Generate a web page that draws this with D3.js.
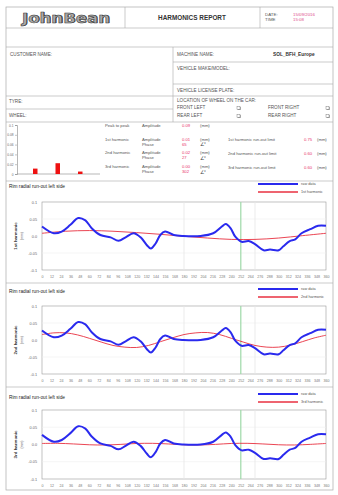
<!DOCTYPE html>
<html><head><meta charset="utf-8">
<script src="https://cdn.jsdelivr.net/npm/d3@7"></script>
<style>body{margin:0;background:#fff}svg{display:block;font-family:"Liberation Sans",Arial,sans-serif}</style>
</head><body><svg id="c" width="338" height="495"></svg>
<script>
// ---------- data ----------
const rawAngles=[0,15,25,36,46,55,63,74,87,97,106,116,125,133,138,144,150,156,167,179,201,217,228,233,239,245,253,262,270,281,289,300,306,314,321,329,340,350,360];
const rawValues=[0.028,0.008,0.013,0.033,0.053,0.046,0.023,0.003,-0.004,-0.014,-0.004,0.008,-0.004,-0.027,-0.037,-0.022,0.003,0.013,0.003,0.0,0.0,0.008,0.028,0.035,0.023,-0.002,-0.017,-0.015,-0.024,-0.042,-0.04,-0.042,-0.03,-0.015,-0.01,0.008,0.02,0.03,0.03];
const h1Angles=[0,30,60,90,120,150,180,210,240,270,300,330,360];
const h1Values=[0.008,0.014,0.016,0.014,0.01,0.005,-0.001,-0.006,-0.01,-0.01,-0.006,0.001,0.008];
const h2Angles=[0,15,30,45,60,75,90,105,120,135,150,165,180,195,210,225,240,255,270,285,300,315,330,345,360];
const h2Values=[0.016,0.021,0.021,0.015,0.005,-0.006,-0.016,-0.021,-0.022,-0.016,-0.005,0.006,0.016,0.021,0.022,0.016,0.005,-0.006,-0.016,-0.021,-0.021,-0.015,-0.005,0.006,0.014];
const h3Angles=[0,20,40,60,80,100,120,140,160,180,200,220,240,260,280,300,320,340,360];
const h3Values=[0.003,0.0034,0.0016,-0.0008,-0.0014,0.0004,0.003,0.0034,0.0016,-0.0008,-0.0014,0.0004,0.003,0.0034,0.0016,-0.0008,-0.0014,0.0004,0.003];
const harmonicNames=["1st harmonic","2nd harmonic","3rd harmonic"];
const xTicks=[0,12,24,36,48,60,72,84,96,108,120,132,144,156,168,180,192,204,216,228,240,252,264,276,288,300,312,324,336,348,360];
const yTicks=[0.1,0.05,0,-0.05,-0.1];
const yTickLabels=["0.1","0.05","0.0","-0.05","-0.1"];
const markerAngle=252;
const barCats=["1st","2nd","3rd"];
const barValues=[0.011,0.022,0.005];
const barTicks=[0,0.02,0.04,0.06,0.08,0.1];
const amplitudes=["0.01","0.02","0.00"];
const phases=["65","27","302"];
const limits=["0.75","0.60","0.60"];
const peakToPeak="0.09";

// ---------- drawing ----------
const svg=d3.select("#c");
svg.append("rect").attr("width",338).attr("height",495).attr("fill","#fff");
const G=svg.append("g");
const ln=(x1,y1,x2,y2,c="#aaa",w=0.6)=>G.append("line").attr("x1",x1).attr("y1",y1).attr("x2",x2).attr("y2",y2).attr("stroke",c).attr("stroke-width",w);
const tx=(x,y,s,o={})=>G.append("text").attr("x",x).attr("y",y).attr("font-size",o.fs||4.4).attr("fill",o.c||"#555")
  .attr("font-weight",o.fw||"normal").attr("text-anchor",o.a||"start").attr("dominant-baseline","middle").text(s);
const box=(x,y)=>{G.append("rect").attr("x",x+0.7).attr("y",y+0.7).attr("width",3).attr("height",3).attr("fill","#999");
  G.append("rect").attr("x",x).attr("y",y).attr("width",3).attr("height",3).attr("fill","#fff").attr("stroke","#666").attr("stroke-width",0.4);};

// frame
G.append("rect").attr("x",6).attr("y",7).attr("width",327).attr("height",483).attr("fill","none").attr("stroke","#aaa").attr("stroke-width",0.7);
ln(6,28,333,28); ln(125,7,125,28); ln(260,7,260,28);
ln(6,47,333,47);
ln(173,47,173,122);
ln(173,62,333,62); ln(173,84,333,84);
ln(6,96,333,96);
ln(6,109,173,109);
ln(6,122,333,122);
ln(6,181,333,181); ln(6,283,333,283); ln(6,387,333,387);

// header
G.append("text").attr("x",66).attr("y",22.5).attr("text-anchor","middle").attr("font-size",14).attr("font-weight","900")
  .attr("font-family","DejaVu Sans").attr("fill","#444").attr("textLength",88).attr("lengthAdjust","spacingAndGlyphs").attr("transform","translate(0.8,0.8)").text("JohnBean");
G.append("text").attr("x",66).attr("y",22.5).attr("text-anchor","middle").attr("font-size",14).attr("font-weight","900")
  .attr("font-family","DejaVu Sans").attr("fill","#a8a8a8").attr("stroke","#333").attr("stroke-width",0.5).attr("textLength",88).attr("lengthAdjust","spacingAndGlyphs").text("JohnBean");
tx(192,18,"HARMONICS REPORT",{fs:6.4,a:"middle",c:"#333",fw:"bold"});
tx(265,14.5,"DATE:",{fs:4.4}); tx(265,20,"TIME",{fs:4.4});
tx(293,14.5,"15/09/2016",{fs:4.4,c:"#e0508a"}); tx(293,20,"15:08",{fs:4.4,c:"#e0508a"});

// identification table
tx(10,55,"CUSTOMER NAME:",{fs:4.6});
tx(177,55,"MACHINE NAME:",{fs:4.6});
tx(273,55,"SOL_BFH_Europe",{fs:4.8,c:"#333",fw:"bold"});
tx(177,69,"VEHICLE MAKE/MODEL:",{fs:4.6});
tx(177,90.5,"VEHICLE LICENSE PLATE:",{fs:4.6});
tx(9,102,"TYRE:",{fs:4.6});
tx(177,101,"LOCATION OF WHEEL ON THE CAR:",{fs:4.6});
tx(177,108,"FRONT LEFT",{fs:4.6}); box(237,106.3);
tx(268,108,"FRONT RIGHT",{fs:4.6}); box(326,106.3);
tx(9,116,"WHEEL:",{fs:4.6});
tx(177,116,"REAR LEFT",{fs:4.6}); box(237,114.3);
tx(268,116,"REAR RIGHT",{fs:4.6}); box(326,114.3);

// bar chart of harmonic amplitudes
const bx=d3.scaleBand().domain(barCats).range([24,91.5]).paddingInner(0.8).paddingOuter(0.4);
const by=d3.scaleLinear().domain([0,0.1]).range([174,125]);
const bg=G.append("g");
bg.append("g").attr("transform","translate(17,0)").call(d3.axisLeft(by).tickValues(barTicks).tickSize(2).tickPadding(1.5).tickFormat(d3.format("~g")))
  .call(a=>{a.select(".domain").attr("stroke","#888").attr("stroke-width",0.6);a.selectAll("line").attr("stroke","#888").attr("stroke-width",0.5);
    a.selectAll("text").attr("font-size",3.2).attr("fill","#666");});
bg.append("line").attr("x1",17).attr("x2",100).attr("y1",174).attr("y2",174).attr("stroke","#888").attr("stroke-width",0.6);
bg.selectAll("rect.b").data(barValues).join("rect").attr("class","b")
  .attr("x",(d,i)=>bx(barCats[i])).attr("width",bx.bandwidth()).attr("y",d=>by(d)).attr("height",d=>174-by(d)).attr("fill","#ee1111");

// results table
tx(105,125.5,"Peak to peak",{fs:4.2}); tx(142,125.5,"Amplitude",{fs:4.2});
tx(182,125.5,peakToPeak,{fs:4.2,c:"#e8336a"}); tx(200,125.5,"(mm)",{fs:4.2});
const rowsY=[139.5,153,167];
harmonicNames.forEach((n,i)=>{
  const y=rowsY[i];
  tx(105,y,n,{fs:4.2}); tx(142,y,"Amplitude",{fs:4.2}); tx(142,y+5,"Phase",{fs:4.2});
  tx(182,y,amplitudes[i],{fs:4.2,c:"#e8336a"}); tx(182,y+5,phases[i],{fs:4.2,c:"#e8336a"});
  tx(200,y,"(mm)",{fs:4.2}); tx(200,y+5.5,"∠°",{fs:4.6,c:"#444"});
  tx(228,y+0.5,n+" run-out limit",{fs:4.2}); tx(304,y+0.5,limits[i],{fs:4.2,c:"#e8336a"}); tx(317,y+0.5,"(mm)",{fs:4.2});
});

// line charts
const x=d3.scaleLinear().domain([0,360]).range([42,326]);
const sections=[
  {title:187,leg:184,top:202,bot:270,h:h1Angles,v:h1Values},
  {title:292,leg:289,top:306,bot:374,h:h2Angles,v:h2Values},
  {title:398,leg:394,top:410,bot:479,h:h3Angles,v:h3Values}];
sections.forEach((s,i)=>{
  const y=d3.scaleLinear().domain([-0.1,0.1]).range([s.bot,s.top]);
  const cg=svg.append("g");
  cg.append("text").attr("x",9).attr("y",s.title).attr("font-size",4.8).attr("fill","#222").attr("dominant-baseline","middle").text("Rim radial run-out left side");
  // legend
  cg.append("line").attr("x1",258).attr("x2",298).attr("y1",s.leg).attr("y2",s.leg).attr("stroke","#2a2aee").attr("stroke-width",2);
  cg.append("line").attr("x1",258).attr("x2",298).attr("y1",s.leg+8).attr("y2",s.leg+8).attr("stroke","#e83040").attr("stroke-width",1.4);
  cg.append("text").attr("x",301).attr("y",s.leg).attr("font-size",3.8).attr("fill","#555").attr("dominant-baseline","middle").text("raw data");
  cg.append("text").attr("x",301).attr("y",s.leg+8).attr("font-size",3.8).attr("fill","#555").attr("dominant-baseline","middle").text(harmonicNames[i]);
  // plot area
  cg.append("rect").attr("x",42).attr("y",s.top).attr("width",284).attr("height",s.bot-s.top).attr("fill","#fff").attr("stroke","#999").attr("stroke-width",0.6);
  [0.05,-0.05].forEach(v=>cg.append("line").attr("x1",42).attr("x2",326).attr("y1",y(v)).attr("y2",y(v)).attr("stroke","#eee").attr("stroke-width",0.6));
  [180,270].forEach(v=>cg.append("line").attr("x1",x(v)).attr("x2",x(v)).attr("y1",s.top).attr("y2",s.bot).attr("stroke","#e6e6e6").attr("stroke-width",0.8));
  cg.append("line").attr("x1",x(markerAngle)).attr("x2",x(markerAngle)).attr("y1",s.top).attr("y2",s.bot).attr("stroke","#9ed9a8").attr("stroke-width",1.2);
  // axes
  cg.append("g").attr("transform","translate(42,0)").call(d3.axisLeft(y).tickValues(yTicks).tickFormat((d,j)=>yTickLabels[j]).tickSize(0).tickPadding(5))
    .call(a=>{a.select(".domain").remove();a.selectAll("text").attr("font-size",3.8).attr("fill","#666");});
  cg.append("g").attr("transform",`translate(0,${s.bot})`).call(d3.axisBottom(x).tickValues(xTicks).tickFormat(d3.format("d")).tickSize(0).tickPadding(5))
    .call(a=>{a.select(".domain").remove();a.selectAll("text").attr("font-size",3.6).attr("fill","#777");});
  // y title
  const cy=(s.top+s.bot)/2;
  cg.append("text").attr("transform",`translate(17,${cy}) rotate(-90)`).attr("text-anchor","middle").attr("font-size",4.4).attr("font-weight","bold").attr("fill","#333").text(harmonicNames[i]);
  cg.append("text").attr("transform",`translate(23,${cy}) rotate(-90)`).attr("text-anchor","middle").attr("font-size",3.4).attr("fill","#666").text("(mm)");
  // series
  const hl=d3.line().x((d,j)=>x(s.h[j])).y(d=>y(d)).curve(d3.curveCatmullRom);
  cg.append("path").attr("d",hl(s.v)).attr("fill","none").attr("stroke","#e83040").attr("stroke-width",0.9);
  const rl=d3.line().x((d,j)=>x(rawAngles[j])).y(d=>y(d)).curve(d3.curveCatmullRom);
  cg.append("path").attr("d",rl(rawValues)).attr("fill","none").attr("stroke","#2a2aee").attr("stroke-width",2);
});
</script></body></html>
